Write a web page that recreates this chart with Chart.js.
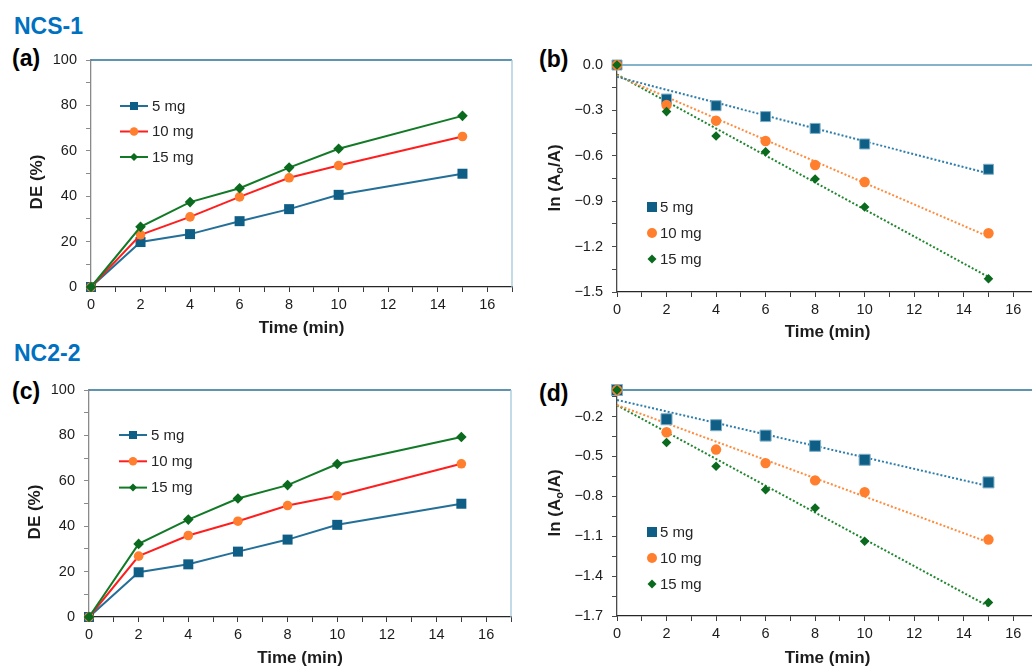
<!DOCTYPE html>
<html><head><meta charset="utf-8">
<script src="https://cdn.jsdelivr.net/npm/chart.js@4"></script>
<style>
html,body{margin:0;padding:0;background:#fff;overflow:hidden;width:1032px;height:667px;position:relative;}
canvas.c{position:absolute;}
.lab{position:absolute;font-family:"Liberation Sans",Arial,sans-serif;font-weight:bold;line-height:1;white-space:nowrap;}
.sec{color:#0070C0;font-size:23px;}
.pan{color:#000;font-size:23px;}
</style></head><body>
<div class="lab sec" style="left:14px;top:15px">NCS-1</div>
<div class="lab sec" style="left:14px;top:342px">NC2-2</div>
<div class="lab pan" style="left:12px;top:47px">(a)</div>
<div class="lab pan" style="left:539px;top:48px">(b)</div>
<div class="lab pan" style="left:12px;top:380px">(c)</div>
<div class="lab pan" style="left:539px;top:382px">(d)</div>
<canvas id="ca" class="c" style="left:0;top:0" width="520" height="340"></canvas>
<canvas id="cb" class="c" style="left:520px;top:0" width="530" height="345"></canvas>
<canvas id="cc" class="c" style="left:0;top:330px" width="520" height="340"></canvas>
<canvas id="cd" class="c" style="left:520px;top:330px" width="530" height="340"></canvas>
<script>
// ---------------- data ----------------
const times = [0, 2, 4, 6, 8, 10, 15];
const seriesNames = ['5 mg', '10 mg', '15 mg'];

const deNCS_5  = [0, 19.8, 23.3, 29.0, 34.3, 40.6, 49.9];
const deNCS_10 = [0, 23.0, 30.9, 39.7, 48.1, 53.5, 66.3];
const deNCS_15 = [0, 26.5, 37.4, 43.5, 52.6, 60.9, 75.4];

const lnNCS_5  = [0, -0.225, -0.269, -0.341, -0.419, -0.522, -0.689];
const lnNCS_10 = [0, -0.264, -0.368, -0.502, -0.661, -0.773, -1.112];
const lnNCS_15 = [0, -0.308, -0.469, -0.573, -0.753, -0.938, -1.412];

const deNC2_5  = [0, 19.7, 23.2, 28.8, 34.1, 40.6, 49.9];
const deNC2_10 = [0, 26.8, 35.9, 42.2, 49.1, 53.4, 67.5];
const deNC2_15 = [0, 32.2, 42.9, 52.2, 58.1, 67.4, 79.3];

const lnNC2_5  = [0, -0.220, -0.265, -0.343, -0.420, -0.525, -0.695];
const lnNC2_10 = [0, -0.318, -0.448, -0.550, -0.680, -0.768, -1.125];
const lnNC2_15 = [0, -0.395, -0.573, -0.750, -0.888, -1.138, -1.598];

const xTicks      = [0, 2, 4, 6, 8, 10, 12, 14, 16];
const yTicksDE    = [0, 20, 40, 60, 80, 100];
const yTicksLnNCS = [0, -0.3, -0.6, -0.9, -1.2, -1.5];
const yTicksLnNC2 = [-0.2, -0.5, -0.8, -1.1, -1.4, -1.7];

// ---------------- style ----------------
const FONT = '"Liberation Sans", Arial, sans-serif';
const TXT = '#1c1c1c';
const TICK_SIZE = 14.5;
const LINE_COL = ['#236F98', '#FF1E1E', '#127A26'];
const MARK_COL = ['#0F5E86', '#FF7F2E', '#0A6A1D'];
const MARK_EDGE = ['#7FAFC8', '#FF7F2E', '#0A6A1D'];
const TREND_COL = ['#2D7DAB', '#FF8B3D', '#20852F'];
const STYLES = ['rect', 'circle', 'rectRot'];

function pts(xs, ys) { return xs.map((x, i) => ({x: x, y: ys[i]})); }

function fitLine(xs, ys) {
  const n = xs.length;
  let mx = 0, my = 0;
  for (let i = 0; i < n; i++) { mx += xs[i]; my += ys[i]; }
  mx /= n; my /= n;
  let sxx = 0, sxy = 0;
  for (let i = 0; i < n; i++) { sxx += (xs[i]-mx)*(xs[i]-mx); sxy += (xs[i]-mx)*(ys[i]-my); }
  const b = sxy / sxx, a = my - b * mx;
  return [{x: xs[0], y: a + b * xs[0]}, {x: xs[n-1], y: a + b * xs[n-1]}];
}

function allTicks(majors, min, max) {
  const s = majors.slice().sort((p, q) => p - q);
  const step = s[1] - s[0];
  const out = s.slice();
  for (let i = 0; i < s.length - 1; i++) out.push((s[i] + s[i+1]) / 2);
  const lo = s[0] - step / 2, hi = s[s.length-1] + step / 2;
  if (lo >= min - 1e-9) out.push(lo);
  if (hi <= max + 1e-9) out.push(hi);
  return out.sort((p, q) => p - q);
}
function isMajor(v, majors) { return majors.some(m => Math.abs(m - v) < 1e-6); }
function fmtLn(v) { return Math.abs(v) < 1e-9 ? '0.0' : v.toFixed(1).replace('-', '\u2212'); }

function markerPath(ctx, style, x, y, s) {
  ctx.beginPath();
  if (style === 'rect') ctx.rect(x - s/2, y - s/2, s, s);
  else if (style === 'circle') ctx.arc(x, y, s/2, 0, Math.PI * 2);
  else { ctx.moveTo(x, y - s/2); ctx.lineTo(x + s/2, y); ctx.lineTo(x, y + s/2); ctx.lineTo(x - s/2, y); ctx.closePath(); }
  ctx.fill();
}

function makeDecor(d) {
  return {
    id: 'decor',
    beforeDatasetsDraw(chart) {
      const {ctx, chartArea: a} = chart;
      ctx.save();
      ctx.lineWidth = 1.3;
      ctx.strokeStyle = d.topColor;
      ctx.beginPath(); ctx.moveTo(a.left, a.top); ctx.lineTo(a.right, a.top); ctx.stroke();
      ctx.strokeStyle = d.rightColor;
      ctx.beginPath(); ctx.moveTo(a.right, a.top); ctx.lineTo(a.right, a.bottom); ctx.stroke();
      ctx.restore();
    },
    afterDraw(chart) {
      const {ctx, chartArea: a} = chart;
      ctx.save();
      // y axis title
      const cx = a.left + d.yTitleDx, cy = a.top + d.yTitleDy;
      ctx.translate(cx, cy);
      ctx.rotate(-Math.PI / 2);
      ctx.fillStyle = TXT;
      ctx.textBaseline = 'middle';
      ctx.textAlign = 'left';
      let total = 0;
      const widths = d.yTitle.map(p => {
        ctx.font = 'bold ' + (p.sub ? 11 : 17) + 'px ' + FONT;
        const w = ctx.measureText(p.t).width; total += w; return w;
      });
      let u = -total / 2;
      d.yTitle.forEach((p, i) => {
        ctx.font = 'bold ' + (p.sub ? 11 : 17) + 'px ' + FONT;
        ctx.fillText(p.t, u, p.sub ? 5 : 0);
        u += widths[i];
      });
      ctx.restore();
      // legend
      ctx.save();
      ctx.font = '15px ' + FONT;
      ctx.textBaseline = 'middle';
      ctx.textAlign = 'left';
      let row = 0;
      chart.data.datasets.forEach(ds => {
        if (!ds.inLegend) return;
        const y = a.top + d.legY + row * d.legDy;
        const x0 = a.left + d.legX;
        let mx = x0;
        if (d.legLine) {
          ctx.strokeStyle = ds.borderColor; ctx.lineWidth = 2;
          ctx.beginPath(); ctx.moveTo(x0, y); ctx.lineTo(x0 + 28, y); ctx.stroke();
          mx = x0 + 14;
        }
        ctx.fillStyle = ds.pointBackgroundColor;
        markerPath(ctx, ds.pointStyle, mx, y, ds.legendSize);
        ctx.fillStyle = '#262626';
        ctx.fillText(ds.label, a.left + d.legTextX, y + 0.5);
        row++;
      });
      ctx.restore();
    }
  };
}

function deDatasets(s5, s10, s15) {
  const sizes = [10, 9.6, 10.6];
  const legendSizes = [8, 8.5, 8];
  return [s5, s10, s15].map((s, i) => ({
    label: seriesNames[i], data: pts(times, s), inLegend: true,
    borderColor: LINE_COL[i], borderWidth: 2, tension: 0, fill: false,
    pointStyle: STYLES[i],
    pointRadius: STYLES[i] === 'rect' ? sizes[i] / Math.SQRT2 : sizes[i] / 2,
    pointBackgroundColor: MARK_COL[i], pointBorderWidth: 0,
    legendSize: legendSizes[i], order: 3 - i, clip: false
  }));
}

function lnDatasets(s5, s10, s15, sq) {
  const sizes = [sq, 10.4, 9.6];
  const legendSizes = [10, 10, 9];
  const out = [s5, s10, s15].map((s, i) => ({
    label: seriesNames[i], data: pts(times, s), inLegend: true, showLine: false,
    borderColor: MARK_COL[i],
    pointStyle: STYLES[i],
    pointRadius: STYLES[i] === 'rect' ? sizes[i] / Math.SQRT2 : sizes[i] / 2,
    pointBackgroundColor: MARK_COL[i],
    pointBorderColor: MARK_EDGE[i], pointBorderWidth: i === 0 ? 1 : 0,
    legendSize: legendSizes[i], order: 3 - i, clip: false
  }));
  [s5, s10, s15].forEach((s, i) => out.push({
    label: seriesNames[i] + ' fit', data: fitLine(times, s), inLegend: false,
    showLine: true, borderColor: TREND_COL[i], borderWidth: 2, borderDash: [2, 2],
    pointRadius: 0, tension: 0, fill: false, order: 10, clip: false
  }));
  return out;
}

function makeChart(id, c) {
  const yMajors = c.yMajors;
  const yAll = allTicks(yMajors, c.yMin, c.yMax);
  const xAll = allTicks(xTicks, 0, 17);
  new Chart(document.getElementById(id), {
    type: 'line',
    data: {datasets: c.datasets},
    options: {
      responsive: false, animation: false, devicePixelRatio: 1,
      layout: {autoPadding: false, padding: c.padding},
      plugins: {legend: {display: false}, tooltip: {enabled: false}},
      scales: {
        x: {
          type: 'linear', min: 0, max: 17,
          afterFit(s) { s.height = c.xH; },
          afterBuildTicks(s) { s.ticks = xAll.map(v => ({value: v})); },
          ticks: {
            autoSkip: false, maxRotation: 0, padding: 4, color: TXT,
            font: {family: FONT, size: TICK_SIZE},
            callback: v => isMajor(v, xTicks) ? String(v) : ''
          },
          grid: {display: true, drawOnChartArea: false, drawTicks: true, tickLength: 5, color: '#3a3a3a', lineWidth: 1},
          border: {display: true, color: '#262626', width: 1.3},
          title: {display: true, text: 'Time (min)', color: TXT,
                  font: {family: FONT, size: 17, weight: 'bold'}, padding: {top: 0, bottom: c.titlePad}}
        },
        y: {
          type: 'linear', min: c.yMin, max: c.yMax,
          afterFit(s) { s.width = c.yW; },
          afterBuildTicks(s) { s.ticks = yAll.map(v => ({value: v})); },
          ticks: {
            autoSkip: false, padding: 9, color: TXT,
            font: {family: FONT, size: TICK_SIZE},
            callback: v => isMajor(v, yMajors) ? c.fmt(v) : ''
          },
          grid: {display: true, drawOnChartArea: false, drawTicks: true, tickLength: 5, color: c.yAxisCol, lineWidth: 1},
          border: {display: true, color: c.yAxisCol, width: 1.3}
        }
      }
    },
    plugins: [makeDecor(c.decor)]
  });
}

const deTitle = [{t: 'DE (%)'}];
const lnTitle = [{t: 'ln (A'}, {t: 'o', sub: true}, {t: '/A)'}];

makeChart('ca', {
  datasets: deDatasets(deNCS_5, deNCS_10, deNCS_15),
  padding: {left: 0, top: 60, right: 8, bottom: 0}, xH: 53, yW: 91, titlePad: 1.8,
  yMin: 0, yMax: 100, yMajors: yTicksDE, fmt: v => String(v), yAxisCol: '#8a8a8a',
  decor: {topColor: '#2A7196', rightColor: '#A3C8DA', yTitle: deTitle, yTitleDx: -54, yTitleDy: 122,
          legLine: true, legX: 29, legTextX: 61, legY: 46, legDy: 25.5}
});
makeChart('cb', {
  datasets: lnDatasets(lnNCS_5, lnNCS_10, lnNCS_15, 10),
  padding: {left: 0, top: 65, right: 12, bottom: 0}, xH: 53, yW: 97, titlePad: 2.8,
  yMin: -1.5, yMax: 0, yMajors: yTicksLnNCS, fmt: fmtLn, yAxisCol: '#4a4a4a',
  decor: {topColor: '#5B9AB8', rightColor: '#A3C8DA', yTitle: lnTitle, yTitleDx: -62, yTitleDy: 113,
          legLine: false, legX: 35, legTextX: 43, legY: 142, legDy: 26}
});
makeChart('cc', {
  datasets: deDatasets(deNC2_5, deNC2_10, deNC2_15),
  padding: {left: 0, top: 60, right: 9, bottom: 0}, xH: 53, yW: 89, titlePad: 1.8,
  yMin: 0, yMax: 100, yMajors: yTicksDE, fmt: v => String(v), yAxisCol: '#8a8a8a',
  decor: {topColor: '#2A7196', rightColor: '#A3C8DA', yTitle: deTitle, yTitleDx: -54, yTitleDy: 122,
          legLine: true, legX: 30, legTextX: 62, legY: 45, legDy: 26.3}
});
makeChart('cd', {
  datasets: lnDatasets(lnNC2_5, lnNC2_10, lnNC2_15, 11),
  padding: {left: 0, top: 60, right: 12, bottom: 0}, xH: 54, yW: 97, titlePad: 1.8,
  yMin: -1.7, yMax: 0, yMajors: yTicksLnNC2, fmt: fmtLn, yAxisCol: '#4a4a4a',
  decor: {topColor: '#2A7196', rightColor: '#A3C8DA', yTitle: lnTitle, yTitleDx: -62, yTitleDy: 113,
          legLine: false, legX: 35, legTextX: 43, legY: 142, legDy: 26}
});
</script>
</body></html>
